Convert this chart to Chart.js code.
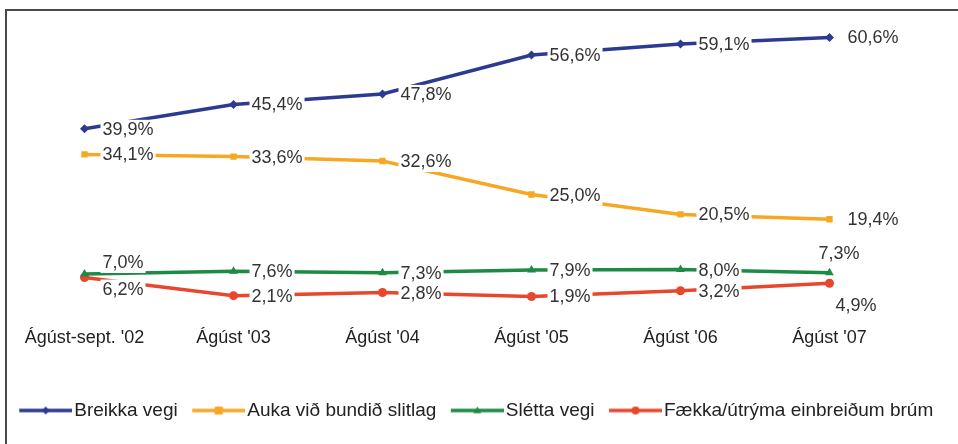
<!DOCTYPE html>
<html>
<head>
<meta charset="utf-8">
<script src="https://cdn.jsdelivr.net/npm/chart.js@4.4.1/dist/chart.umd.min.js"></script>
<style>
  html, body { margin: 0; padding: 0; background: #fff; }
  #wrap { position: relative; width: 958px; height: 444px; }
  #frame { position: absolute; left: 5px; top: 9px; right: 0; bottom: 0; border-left: 2px solid #4a4a4a; border-top: 2px solid #4a4a4a; pointer-events: none; }
</style>
</head>
<body>
<div id="wrap">
  <canvas id="roadChart" width="958" height="444"></canvas>
  <div id="frame"></div>
</div>
<script>
// categories + series (percent)
const periods = ["Ágúst-sept. '02", "Ágúst '03", "Ágúst '04", "Ágúst '05", "Ágúst '06", "Ágúst '07"];
const seriesNames = ['Breikka vegi', 'Auka við bundið slitlag', 'Slétta vegi', 'Fækka/útrýma einbreiðum brúm'];
const breikka = [39.9, 45.4, 47.8, 56.6, 59.1, 60.6];
const slitlag = [34.1, 33.6, 32.6, 25.0, 20.5, 19.4];
const sletta  = [7.0, 7.6, 7.3, 7.9, 8.0, 7.3];
const bru     = [6.2, 2.1, 2.8, 1.9, 3.2, 4.9];

const colors = ['#2d3a92', '#f6a724', '#1d8a45', '#e8472d'];
const markers = ['rectRot', 'rect', 'triangle', 'circle'];
const markerSize = [4.5, 4.5, 5, 4.5];

const FONT = '"Liberation Sans", Arial, sans-serif';

// labels that don't sit just right of their point: [dx from point to text start, dy]
const labelShift = {
    '2-0': [18, -11],
    '3-0': [18, 12],
    '2-5': [-11, -19],
    '3-5': [6, 23]
};

function legendIcon(i)
{
    const c = document.createElement('canvas');
    c.width = 55;
    c.height = 14;
    const g = c.getContext('2d');
    g.strokeStyle = colors[i];
    g.lineWidth = 3.5;
    g.beginPath();
    g.moveTo(2, 7);
    g.lineTo(55, 7);
    g.stroke();
    g.fillStyle = colors[i];
    const cx = 28.5, cy = 7, r = 4;
    g.beginPath();
    if (markers[i] === 'rectRot') {
        g.moveTo(cx, cy - r); g.lineTo(cx + r, cy); g.lineTo(cx, cy + r); g.lineTo(cx - r, cy);
    } else if (markers[i] === 'rect') {
        g.rect(cx - r, cy - r, 2 * r, 2 * r);
    } else if (markers[i] === 'triangle') {
        g.moveTo(cx, cy - r); g.lineTo(cx + r, cy + r * 0.7); g.lineTo(cx - r, cy + r * 0.7);
    } else {
        g.arc(cx, cy, r, 0, Math.PI * 2);
    }
    g.closePath();
    g.fill();
    return c;
}
const icons = [0, 1, 2, 3].map(legendIcon);

const valueLabels = {
    id: 'valueLabels',
    afterDatasetsDraw(chart)
    {
        const ctx = chart.ctx;
        ctx.save();
        ctx.font = '18px ' + FONT;
        ctx.textBaseline = 'middle';
        ctx.textAlign = 'left';
        chart.data.datasets.forEach((ds, d) => {
            const meta = chart.getDatasetMeta(d);
            meta.data.forEach((pt, i) => {
                const txt = ds.data[i].toFixed(1).replace('.', ',') + '%';
                const s = labelShift[d + '-' + i] || [18, 1];
                const x = pt.x + s[0];
                const y = pt.y + s[1];
                const w = ctx.measureText(txt).width;
                ctx.fillStyle = '#ffffff';
                ctx.fillRect(x - 2, y - 10, w + 4, 20);
                ctx.fillStyle = '#333333';
                ctx.fillText(txt, x, y);
            });
        });
        ctx.restore();
    }
};

const allSeries = [breikka, slitlag, sletta, bru];

new Chart(document.getElementById('roadChart'), {
    type: 'line',
    data: {
        labels: periods,
        datasets: allSeries.map((vals, i) => ({
            label: seriesNames[i],
            data: vals,
            borderColor: colors[i],
            backgroundColor: colors[i],
            borderWidth: 3.5,
            tension: 0,
            pointStyle: markers[i],
            pointRadius: markerSize[i],
            pointBorderWidth: 0,
            pointBackgroundColor: colors[i]
        }))
    },
    options: {
        responsive: false,
        animation: false,
        layout: { padding: { top: 18, left: 0, right: 0, bottom: 14 } },
        plugins: {
            tooltip: { enabled: false },
            legend: {
                position: 'bottom',
                labels: {
                    usePointStyle: true,
                    pointStyleWidth: 40,
                    padding: 20,
                    color: '#222',
                    font: { family: FONT, size: 19 },
                    generateLabels(chart) {
                        const items = Chart.defaults.plugins.legend.labels.generateLabels(chart);
                        items.forEach((it, i) => { it.pointStyle = icons[i]; });
                        return items;
                    }
                }
            }
        },
        scales: {
            x: {
                offset: true,
                grid: { display: false, drawTicks: false },
                border: { display: false },
                ticks: {
                    color: '#222',
                    padding: 22,
                    font: { family: FONT, size: 18 }
                },
                afterFit(axis) { axis.height += 10.5; }
            },
            y: {
                min: 0,
                max: 65,
                grid: { display: false, drawTicks: false },
                border: { display: false },
                ticks: { display: false },
                afterFit(axis) { axis.width = 10; }
            },
            yRight: {
                position: 'right',
                min: 0,
                max: 65,
                grid: { display: false, drawTicks: false },
                border: { display: false },
                ticks: { display: false },
                afterFit(axis) { axis.width = 54; }
            }
        }
    },
    plugins: [valueLabels]
});
</script>
</body>
</html>
